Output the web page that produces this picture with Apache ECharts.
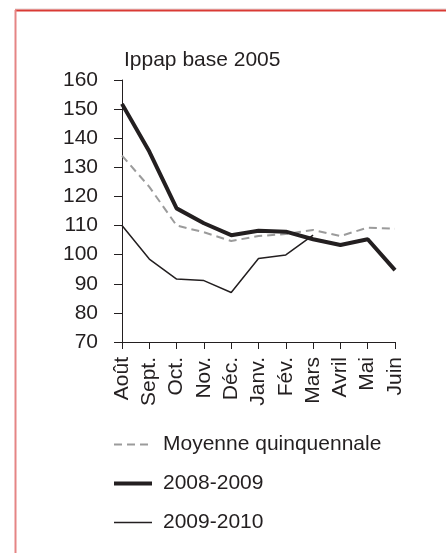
<!DOCTYPE html>
<html>
<head>
<meta charset="utf-8">
<script src="https://cdn.jsdelivr.net/npm/echarts@6/dist/echarts.min.js"></script>
<style>
html,body{margin:0;padding:0;background:#fff;}
#chart{width:446px;height:553px;}
</style>
</head>
<body>
<div id="chart"></div>
<script>
var months = ['Août','Sept.','Oct.','Nov.','Déc.','Janv.','Fév.','Mars','Avril','Mai','Juin'];
var moyenne = [134, 123.3, 110, 107.7, 104.7, 106.4, 107.1, 108.5, 106.4, 109.3, 108.9];
var s2008 = [151.8, 135.4, 115.9, 110.8, 106.7, 108.2, 107.9, 105.3, 103.3, 105.3, 94.7];
var s2009 = [110, 98.5, 91.6, 91.1, 87, 98.7, 99.9, 106.7, null, null, null];
var yTicks = {min: 70, max: 160, interval: 10};

var ink = '#231f20';
var grey = '#9b9b9b';
var font = 'Liberation Sans, Arial, sans-serif';
var chart = echarts.init(document.getElementById('chart'));
chart.setOption({
  animation: false,
  backgroundColor: '#fff',
  title: {
    text: 'Ippap base 2005',
    left: 119, top: 45,
    textStyle: {fontFamily: font, fontSize: 21, fontWeight: 'normal', color: ink}
  },
  graphic: [
    {type: 'line', shape: {x1: 15, y1: 9, x2: 446, y2: 9}, style: {stroke: '#e0d0d0', lineWidth: 1}},
    {type: 'line', shape: {x1: 15, y1: 10.5, x2: 446, y2: 10.5}, style: {stroke: '#d93a34', lineWidth: 2}},
    {type: 'line', shape: {x1: 15.5, y1: 10, x2: 15.5, y2: 553}, style: {stroke: '#e58585', lineWidth: 2}}
  ],
  grid: {left: 122, right: 51, top: 80, bottom: 211, containLabel: false},
  legend: {
    orient: 'vertical',
    left: 107, top: 429,
    itemWidth: 38, itemHeight: 20, itemGap: 18,
    itemStyle: {opacity: 0},
    textStyle: {fontFamily: font, fontSize: 21, color: ink, padding: [0, 0, 10, 6]},
    data: [
      {name: 'Moyenne quinquennale', lineStyle: {width: 2, type: [8, 5], color: grey}},
      {name: '2008-2009', lineStyle: {width: 4, color: ink}},
      {name: '2009-2010', lineStyle: {width: 1.5, color: ink}}
    ]
  },
  xAxis: {
    type: 'category',
    data: months,
    boundaryGap: false,
    axisLine: {lineStyle: {color: ink, width: 1}},
    axisTick: {show: true, length: 7, interval: 0, lineStyle: {color: ink}},
    axisLabel: {interval: 0, rotate: 90, margin: 15, fontFamily: font, fontSize: 21, color: ink}
  },
  yAxis: {
    type: 'value',
    min: yTicks.min, max: yTicks.max, interval: yTicks.interval,
    splitLine: {show: false},
    axisLine: {show: true, lineStyle: {color: ink, width: 1}},
    axisTick: {show: true, length: 8, lineStyle: {color: ink}},
    axisLabel: {margin: 24, fontFamily: font, fontSize: 21, color: ink}
  },
  series: [
    {name: 'Moyenne quinquennale', type: 'line', data: moyenne, symbol: 'none',
     lineStyle: {color: grey, width: 2, type: [8, 5]}, itemStyle: {color: grey}, z: 2},
    {name: '2008-2009', type: 'line', data: s2008, symbol: 'none',
     lineStyle: {color: ink, width: 4}, itemStyle: {color: ink}, z: 3},
    {name: '2009-2010', type: 'line', data: s2009, symbol: 'none',
     lineStyle: {color: ink, width: 1.5}, itemStyle: {color: ink}, z: 4}
  ]
});
</script>
</body>
</html>
